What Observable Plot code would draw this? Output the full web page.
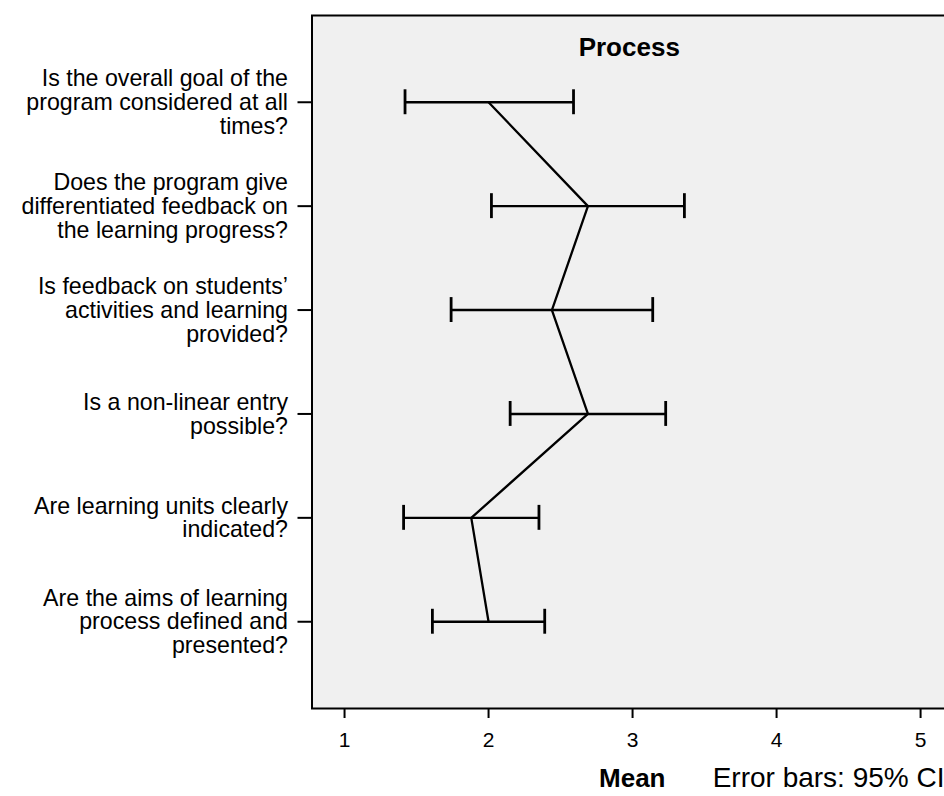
<!DOCTYPE html>
<html><head><meta charset="utf-8">
<script src="https://cdn.jsdelivr.net/npm/d3@7"></script>
<script src="https://cdn.jsdelivr.net/npm/@observablehq/plot@0.6"></script>
<style>
html,body{margin:0;padding:0;background:#fff;overflow:hidden}
#chart{width:944px;height:796px;overflow:hidden}
</style></head><body><div id="chart"></div>
<script>
const questions = [
  "Is the overall goal of the\nprogram considered at all\ntimes?",
  "Does the program give\ndifferentiated feedback on\nthe learning progress?",
  "Is feedback on students’\nactivities and learning\nprovided?",
  "Is a non-linear entry\npossible?",
  "Are learning units clearly\nindicated?",
  "Are the aims of learning\nprocess defined and\npresented?"
];
const means = [2.00, 2.69, 2.44, 2.69, 1.88, 2.00];
const lower = [1.42, 2.02, 1.74, 2.15, 1.41, 1.61];
const upper = [2.59, 3.36, 3.14, 3.23, 2.35, 2.39];
const xTicks = [1, 2, 3, 4, 5];
const title = "Process";
const xLabel = "Mean";
const note = "Error bars: 95% CI";

const data = questions.map((q, i) => ({q, mean: means[i], lo: lower[i], hi: upper[i]}));
const font = "'Liberation Sans', Arial, Helvetica, sans-serif";

const chart = Plot.plot({
  width: 944, height: 796,
  marginTop: 15, marginBottom: 88, marginLeft: 311.5, marginRight: -2,
  style: {fontFamily: font, color: "black", background: "white", overflow: "hidden"},
  x: {domain: [0.774, 5.18]},
  y: {type: "band", domain: questions, paddingInner: 0.76, paddingOuter: 0.715, round: false},
  marks: [
    Plot.frame({fill: "#f0f0f0", stroke: "none"}),
    Plot.axisY({tickSize: 14, tickPadding: 10, fontSize: 23.2, lineHeight: 1.03, strokeWidth: 2, label: null}),
    Plot.axisX({ticks: xTicks, tickFormat: "d", tickSize: 10, tickPadding: 14, fontSize: 21, strokeWidth: 2, label: null}),
    Plot.ruleY(data, {y: "q", x1: "lo", x2: "hi", stroke: "black", strokeWidth: 2.4}),
    Plot.tickX(data, {x: "lo", y: "q", stroke: "black", strokeWidth: 2.8}),
    Plot.tickX(data, {x: "hi", y: "q", stroke: "black", strokeWidth: 2.8}),
    Plot.line(data, {x: "mean", y: "q", stroke: "black", strokeWidth: 2.3}),
    Plot.frame({stroke: "black", strokeWidth: 2}),
    Plot.text([title], {frameAnchor: "top", lineAnchor: "middle", dy: 32, fontSize: 26, fontWeight: "bold"}),
    Plot.text([xLabel], {frameAnchor: "bottom", lineAnchor: "middle", dx: 3, dy: 70, fontSize: 26, fontWeight: "bold"}),
    Plot.text([note], {frameAnchor: "bottom-right", textAnchor: "end", lineAnchor: "middle", dx: -2, dy: 70, fontSize: 28})
  ]
});
document.getElementById("chart").appendChild(chart);
</script>
</body></html>
